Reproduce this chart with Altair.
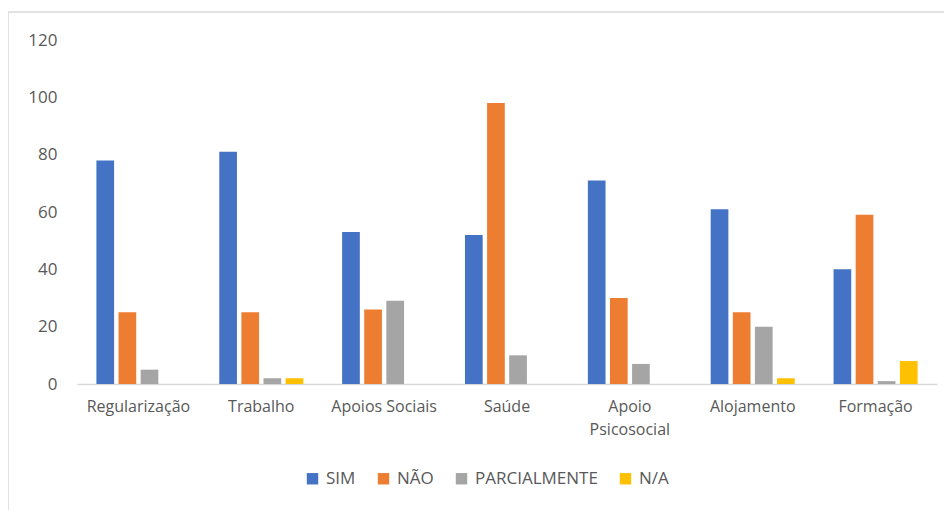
import altair as alt
import pandas as pd

categories = ["Regularização", "Trabalho", "Apoios Sociais", "Saúde",
              "Apoio Psicosocial", "Alojamento", "Formação"]
series = ["SIM", "NÃO", "PARCIALMENTE", "N/A"]
sim = [78, 81, 53, 52, 71, 61, 40]
nao = [25, 25, 26, 98, 30, 25, 59]
parcial = [5, 2, 29, 10, 7, 20, 1]
na = [0, 2, 0, 0, 0, 2, 8]
colors = ["#4472C4", "#ED7D31", "#A5A5A5", "#FFC000"]
y_ticks = [0, 20, 40, 60, 80, 100, 120]

rows = []
for s, vals in zip(series, [sim, nao, parcial, na]):
    for c, v in zip(categories, vals):
        rows.append({"cat": c, "serie": s, "valor": v})
df = pd.DataFrame(rows)

TXT = "#595959"
FONT = "Open Sans"

bars = alt.Chart(df).mark_bar().encode(
    x=alt.X("cat:N", sort=categories, title=None,
            scale=alt.Scale(paddingInner=0.28, paddingOuter=0.14),
            axis=alt.Axis(labelAngle=0, labelFont=FONT, labelFontSize=16,
                          labelColor=TXT, domainColor="#D9D9D9", domainWidth=1.5,
                          ticks=False, labelPadding=14, labelLineHeight=23,
                          labelExpr="datum.label == 'Apoio Psicosocial' ? ['Apoio', 'Psicosocial'] : datum.label")),
    xOffset=alt.XOffset("serie:N", sort=series,
                        scale=alt.Scale(paddingInner=0.2, paddingOuter=0.1)),
    y=alt.Y("valor:Q", title=None,
            scale=alt.Scale(domain=[0, 120], nice=False),
            axis=alt.Axis(values=y_ticks, grid=False, domain=False, ticks=False,
                          labelFont=FONT, labelFontSize=17, labelColor=TXT,
                          labelPadding=20)),
    color=alt.Color("serie:N", sort=series,
                    scale=alt.Scale(domain=series, range=colors),
                    legend=alt.Legend(title=None, orient="none", direction="horizontal",
                                      legendX=227, legendY=430, symbolType="square",
                                      symbolSize=130, symbolStrokeWidth=0,
                                      labelFont=FONT, labelFontSize=17, labelColor=TXT,
                                      labelOffset=5, columnPadding=19)),
)

frame_top = alt.Chart(pd.DataFrame({"a": [0]})).mark_rule(color="#D9D9D9", strokeWidth=1.5).encode(
    x=alt.value(-69), x2=alt.value(870), y=alt.value(-28))
frame_left = alt.Chart(pd.DataFrame({"a": [0]})).mark_rule(color="#D9D9D9", strokeWidth=1.5).encode(
    x=alt.value(-69), y=alt.value(-28), y2=alt.value(480))

chart = alt.layer(frame_top, frame_left, bars).properties(
    width=860, height=344,
    autosize=alt.AutoSizeParams(type="none"),
    padding={"left": 69, "top": 32, "right": 7, "bottom": 126},
).configure_view(stroke=None)

chart.save("out.html", embed_options={"renderer": "svg", "actions": False})
